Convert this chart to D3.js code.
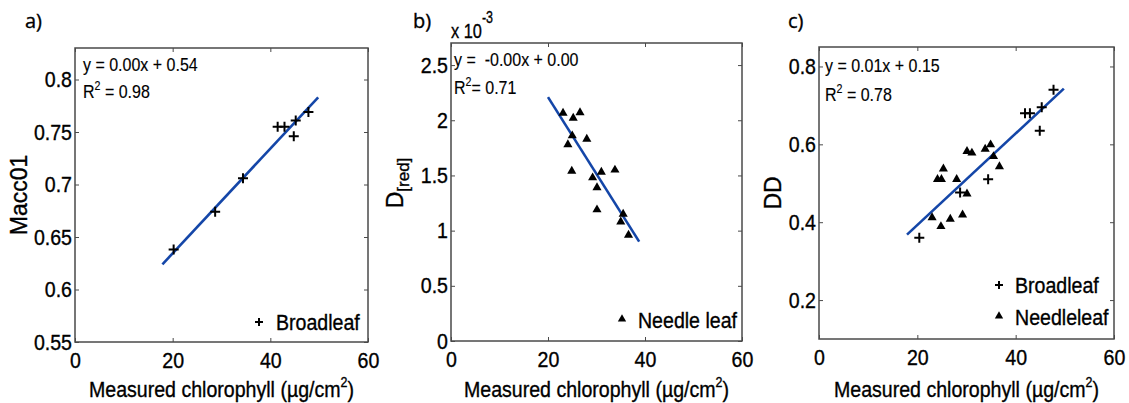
<!DOCTYPE html>
<html><head><meta charset="utf-8">
<script src="https://cdn.jsdelivr.net/npm/d3@7"></script>
<style>
body{margin:0;background:#fff;}
svg{display:block;font-family:"Liberation Sans",Arial,sans-serif;}
svg text{stroke:#000;stroke-width:0.35px;}
</style></head><body>
<svg id="c" width="1129" height="403"></svg>
<script>
// ---- data ----
const xTicks = [0, 20, 40, 60];

// panel a: Broadleaf (+)
const aBroadX = [20.2, 28.7, 34.4, 41.5, 42.9, 45.2, 44.8, 47.8];
const aBroadY = [0.638, 0.674, 0.706, 0.755, 0.755, 0.761, 0.746, 0.769];
const aFit = [[17.9, 0.624], [49.8, 0.783]];
const aYTicks = [0.55, 0.6, 0.65, 0.7, 0.75, 0.8];
const aYLabels = ["0.55", "0.6", "0.65", "0.7", "0.75", "0.8"];

// panel b: Needle leaf (triangles), y in units of 1e-3
const bNeedleX = [23.1, 25.2, 26.6, 25.0, 24.1, 28.0, 24.9, 29.2, 31.0, 33.8, 30.1, 30.1, 35.5, 35.0, 36.6];
const bNeedleY = [2.065, 2.02, 2.07, 1.86, 1.78, 1.83, 1.54, 1.48, 1.53, 1.55, 1.39, 1.19, 1.15, 1.08, 0.96];
const bFit = [[20.0, 2.21], [38.8, 0.90]];
const bYTicks = [0, 0.5, 1, 1.5, 2, 2.5];
const bYLabels = ["0", "0.5", "1", "1.5", "2", "2.5"];

// panel c: Broadleaf (+) and Needleleaf (triangles)
const cBroadX = [20.4, 28.7, 34.4, 41.9, 42.9, 45.3, 44.9, 47.7];
const cBroadY = [0.360, 0.476, 0.510, 0.680, 0.680, 0.695, 0.635, 0.740];
const cNeedleX = [23.0, 24.8, 26.7, 29.2, 24.1, 24.9, 25.3, 28.0, 30.1, 30.1, 31.1, 33.8, 34.9, 35.5, 36.7];
const cNeedleY = [0.412, 0.389, 0.408, 0.419, 0.510, 0.510, 0.537, 0.510, 0.473, 0.582, 0.578, 0.588, 0.599, 0.569, 0.543];
const cFit = [[17.9, 0.368], [49.8, 0.743]];
const cYTicks = [0.2, 0.4, 0.6, 0.8];
const cYLabels = ["0.2", "0.4", "0.6", "0.8"];

const zip = (xs, ys) => xs.map((x, i) => [x, ys[i]]);

const svg = d3.select("#c");
const FIT_COLOR = "#1446a8";
const AX_COLOR = "#4a4a4a";
const SQ = 0.89; // horizontal squeeze of the narrow reference font

function squeeze(sel, s = SQ) {
  sel.each(function () {
    const t = d3.select(this);
    const x = +(t.attr("x") || 0);
    t.attr("x", x / s).attr("transform", `scale(${s},1)`);
  });
  return sel;
}

function panel(cfg) {
  const x = d3.scaleLinear().domain([0, 60]).range([cfg.left, cfg.right]);
  const y = d3.scaleLinear().domain(cfg.yDomain).range([cfg.bottom, cfg.top]);
  const g = svg.append("g");
  const tl = 4;
  const xb = g.append("g").attr("transform", `translate(0,${cfg.bottom})`)
    .call(d3.axisBottom(x).tickValues(xTicks).tickSizeInner(-tl).tickSizeOuter(0).tickPadding(10).tickFormat(d3.format("d")));
  const xt = g.append("g").attr("transform", `translate(0,${cfg.top})`)
    .call(d3.axisTop(x).tickValues(xTicks).tickSizeInner(-tl).tickSizeOuter(0).tickFormat(""));
  const yl = g.append("g").attr("transform", `translate(${cfg.left},0)`)
    .call(d3.axisLeft(y).tickValues(cfg.yTicks).tickSizeInner(-tl).tickSizeOuter(0).tickPadding(3)
      .tickFormat((d, i) => cfg.yLabels[i]));
  const yr = g.append("g").attr("transform", `translate(${cfg.right},0)`)
    .call(d3.axisRight(y).tickValues(cfg.yTicks).tickSizeInner(-tl).tickSizeOuter(0).tickFormat(""));
  [xb, xt, yl, yr].forEach(a => {
    a.select(".domain").remove();
    a.selectAll(".tick line").attr("stroke", AX_COLOR);
    a.selectAll("text").attr("font-size", 22).attr("fill", "#000")
      .attr("font-family", '"Liberation Sans",Arial,sans-serif');
    squeeze(a.selectAll("text"));
  });
  xb.selectAll("text").attr("dy", "0.72em");
  // frame
  g.append("rect").attr("x", cfg.left).attr("y", cfg.top)
    .attr("width", cfg.right - cfg.left).attr("height", cfg.bottom - cfg.top)
    .attr("fill", "none").attr("stroke", AX_COLOR).attr("stroke-width", 1.5);
  // fit line
  g.append("path").datum(cfg.fit)
    .attr("d", d3.line().x(d => x(d[0])).y(d => y(d[1])))
    .attr("stroke", FIT_COLOR).attr("stroke-width", 2.6).attr("fill", "none");
  // markers
  (cfg.broad || []).forEach(p => {
    g.append("path").attr("transform", `translate(${x(p[0])},${y(p[1])})`)
      .attr("d", "M-5,0H5M0,-5V5").attr("stroke", "#000").attr("stroke-width", 2);
  });
  const tri = d3.symbol().type(d3.symbolTriangle).size(36);
  (cfg.needle || []).forEach(p => {
    g.append("path").attr("transform", `translate(${x(p[0])},${y(p[1])})`)
      .attr("d", tri()).attr("fill", "#000");
  });
  return {x, y, g};
}

panel({left: 75, right: 368, top: 48, bottom: 342, yDomain: [0.55, 0.83],
  yTicks: aYTicks, yLabels: aYLabels, fit: aFit, broad: zip(aBroadX, aBroadY)});
panel({left: 451, right: 742, top: 43, bottom: 341, yDomain: [0, 2.7],
  yTicks: bYTicks, yLabels: bYLabels, fit: bFit, needle: zip(bNeedleX, bNeedleY)});
panel({left: 819, right: 1114, top: 47, bottom: 339, yDomain: [0.1, 0.85],
  yTicks: cYTicks, yLabels: cYLabels, fit: cFit, broad: zip(cBroadX, cBroadY), needle: zip(cNeedleX, cNeedleY)});

// ---------- texts ----------
function txt(x, y, s, size, opts = {}) {
  const t = svg.append("text").attr("x", x).attr("y", y).attr("font-size", size).attr("fill", "#000");
  if (opts.anchor) t.attr("text-anchor", opts.anchor);
  if (opts.family) t.attr("font-family", opts.family);
  t.text(s);
  if (opts.sq !== false) squeeze(t, opts.sq || SQ);
  return t;
}
function xLabel(cx) {
  const t = svg.append("text").attr("x", cx).attr("y", 397).attr("text-anchor", "middle")
    .attr("font-size", 22).attr("fill", "#000");
  t.append("tspan").text("Measured chlorophyll (\u00B5g/cm");
  t.append("tspan").attr("font-size", 14).attr("dy", -10).text("2");
  t.append("tspan").attr("dy", 10).text(")");
  squeeze(t);
}
xLabel((75 + 368) / 2);
xLabel((451 + 742) / 2);
xLabel((819 + 1114) / 2);

function r2(x, y, val, gap) {
  const t = svg.append("text").attr("x", x).attr("y", y).attr("font-size", 18).attr("fill", "#000")
    .style("stroke-width", "0.15px");
  t.append("tspan").text("R");
  t.append("tspan").attr("font-size", 12).attr("dy", -8).text("2");
  t.append("tspan").attr("dy", 8).text(gap + "= " + val);
  squeeze(t);
}

// panel letters
const LF = '"Open Sans","Liberation Sans",sans-serif';
txt(25, 28, "a)", 20, {family: LF, sq: false});
txt(413, 28, "b)", 20, {family: LF, sq: false});
txt(788, 28, "c)", 20, {family: LF, sq: false});

// annotations
txt(83, 71, "y = 0.00x + 0.54", 18).style("stroke-width", "0.15px");
r2(83, 98, "0.98", " ");
txt(454, 66, "y =  -0.00x + 0.00", 18).style("white-space", "pre").style("stroke-width", "0.15px");
r2(454, 94, "0.71", "");
txt(825, 72, "y = 0.01x + 0.15", 18).style("stroke-width", "0.15px");
r2(825, 101, "0.78", " ");

// x 10^-3
const ex = svg.append("text").attr("x", 451).attr("y", 38).attr("font-size", 21).attr("fill", "#000");
ex.append("tspan").text("x 10");
ex.append("tspan").attr("font-size", 16).attr("dy", -15).text("-3");
squeeze(ex, 0.78);

// y labels
svg.append("text").attr("transform", "translate(27,195) rotate(-90)").attr("text-anchor", "middle")
  .attr("font-size", 23).attr("fill", "#000").text("Macc01");
const yb = svg.append("text").attr("transform", "translate(403,183) rotate(-90)").attr("text-anchor", "middle")
  .attr("font-size", 23).attr("fill", "#000");
yb.append("tspan").text("D");
yb.append("tspan").attr("font-size", 17).attr("dy", 6).text("[red]");
svg.append("text").attr("transform", "translate(781,193) rotate(-90)").attr("text-anchor", "middle")
  .attr("font-size", 23).attr("fill", "#000").text("DD");

// legends
function legPlus(x, y) {
  svg.append("path").attr("transform", `translate(${x},${y})`).attr("d", "M-4,0H4M0,-4V4")
    .attr("stroke", "#000").attr("stroke-width", 2);
}
function legTri(x, y) {
  svg.append("path").attr("transform", `translate(${x},${y})`)
    .attr("d", d3.symbol().type(d3.symbolTriangle).size(30)()).attr("fill", "#000");
}
legPlus(259, 322); txt(276, 330, "Broadleaf", 22);
legTri(622, 319); txt(638, 328, "Needle leaf", 22);
legPlus(999, 285); txt(1015, 293, "Broadleaf", 22);
legTri(999, 316); txt(1015, 325, "Needleleaf", 22);
</script>
</body></html>
